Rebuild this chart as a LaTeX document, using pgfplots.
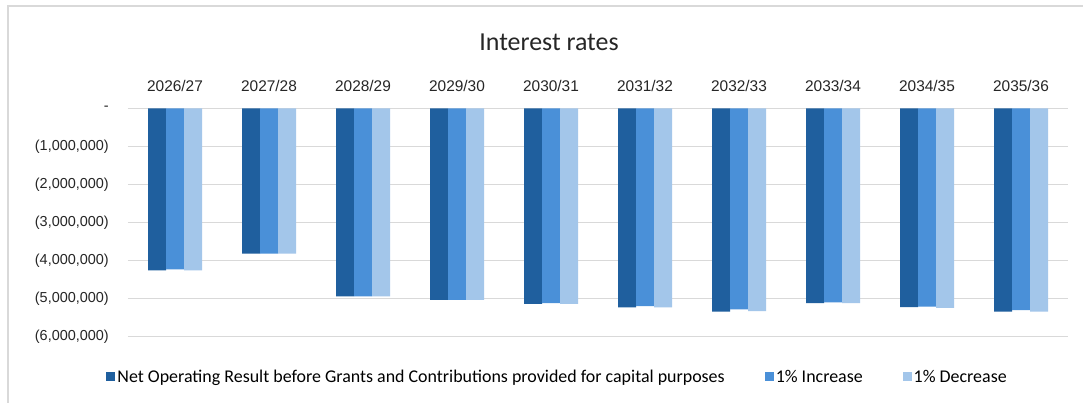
\documentclass[border=0pt]{standalone}
\usepackage{fontspec}
\setmainfont{Liberation Sans}
\newfontfamily\carlito{Carlito}
\usepackage{pgfplots}
\pgfplotsset{compat=1.18}
\definecolor{c1}{HTML}{1F5F9E}
\definecolor{c2}{HTML}{4A90D8}
\definecolor{c3}{HTML}{A3C6EA}
\definecolor{gridc}{HTML}{D9D9D9}
\pgfplotsset{sqlegend/.style={legend image code/.code={\fill[##1] (0bp,-4.5bp) rectangle (9bp,4.5bp);}}}
\begin{document}
\begin{tikzpicture}
\useasboundingbox (0,0) rectangle (1083bp,-403bp);
\fill[white] (0,0) rectangle (1083bp,-403bp);
\draw[color=gridc, line width=1.5bp] (8bp,-403bp) -- (8bp,-6bp) -- (1083bp,-6bp);
\node[font=\carlito\fontsize{26}{30}\selectfont, color=black!85] at (549bp,-42bp) {Interest rates};
\begin{axis}[
  at={(128bp,-108.3bp)}, anchor=north west,
  scale only axis, width=940bp, height=228.4bp,
  ymin=-6000000, ymax=0, xmin=-0.5, xmax=9.5,
  scaled y ticks=false,
  ybar=0pt, bar width=18bp,
  axis line style={draw=none},
  major tick length=0pt,
  xtick={0,...,9},
  xticklabels={2026/27,2027/28,2028/29,2029/30,2030/31,2031/32,2032/33,2033/34,2034/35,2035/36},
  xticklabel pos=upper,
  xticklabel style={font=\fontsize{15.5}{18}\selectfont, inner sep=0pt, anchor=base, yshift=17bp, color=black!85},
  ytick={-6000000,-5000000,-4000000,-3000000,-2000000,-1000000,0},
  yticklabels={(6,000,000),(5,000,000),(4,000,000),(3,000,000),(2,000,000),(1,000,000),-},
  yticklabel style={font=\fontsize{14.5}{18}\selectfont, inner sep=0pt, anchor=east, xshift=-19bp, color=black!85},
  ymajorgrids, grid style={color=gridc, line width=1.3bp},
  legend columns=3,
  legend style={at={(0.457,-0.176)}, anchor=center, draw=none, fill=none,
    font=\carlito\fontsize{18}{20}\selectfont,
    /tikz/every even column/.append style={column sep=38bp}},
]
\addplot[fill=c1, draw=none, sqlegend] coordinates {
(0,-4260000) (1,-3820000) (2,-4940000) (3,-5030000) (4,-5140000) (5,-5230000) (6,-5340000) (7,-5120000) (8,-5220000) (9,-5340000)};
\addplot[fill=c2, draw=none, sqlegend] coordinates {
(0,-4230000) (1,-3820000) (2,-4940000) (3,-5030000) (4,-5120000) (5,-5200000) (6,-5280000) (7,-5100000) (8,-5210000) (9,-5300000)};
\addplot[fill=c3, draw=none, sqlegend] coordinates {
(0,-4260000) (1,-3820000) (2,-4940000) (3,-5030000) (4,-5140000) (5,-5230000) (6,-5330000) (7,-5120000) (8,-5240000) (9,-5340000)};
\legend{Net Operating Result before Grants and Contributions provided for capital purposes,1\% Increase,1\% Decrease}
\end{axis}
\end{tikzpicture}
\end{document}
